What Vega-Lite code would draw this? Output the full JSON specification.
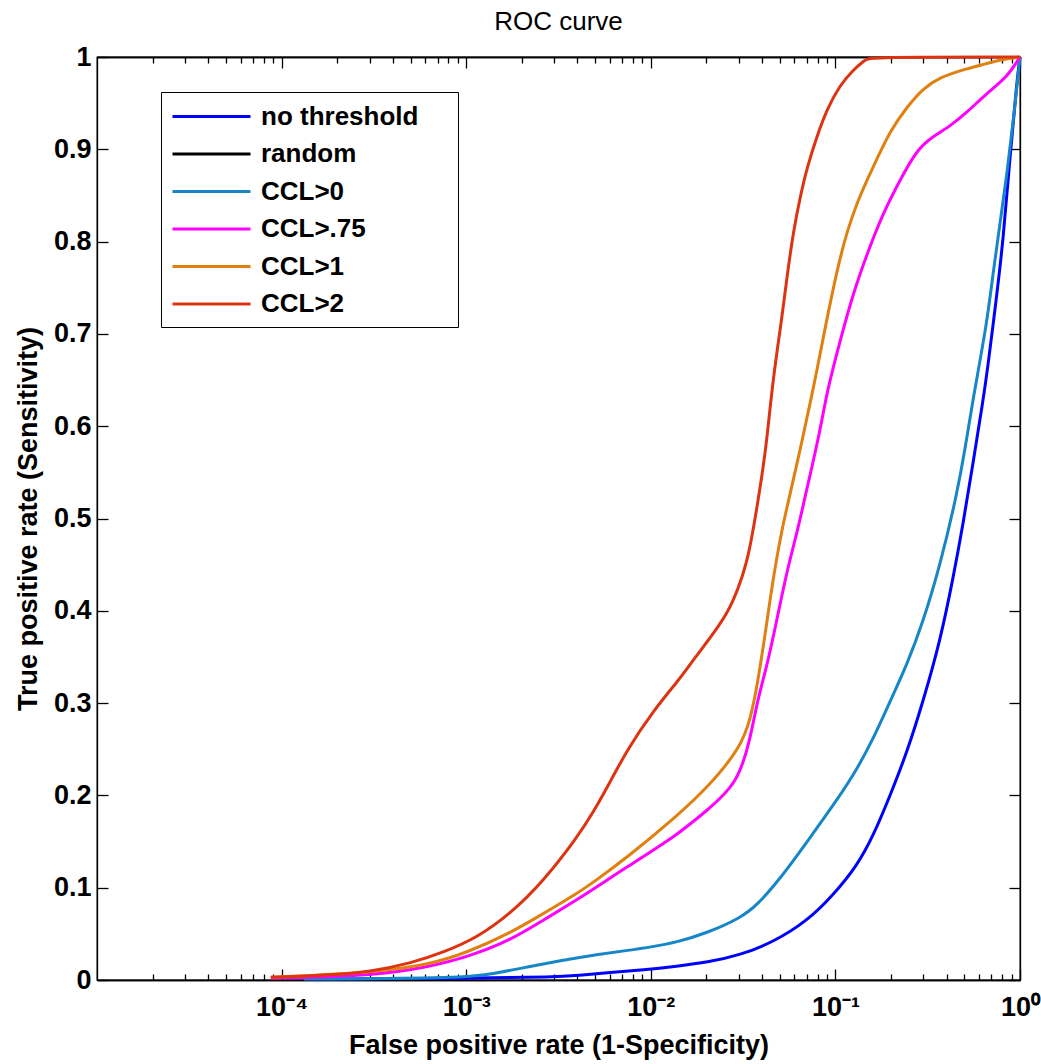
{
  "$schema": "https://vega.github.io/schema/vega-lite/v6.json",
  "width": 923,
  "height": 923,
  "autosize": {"type": "none"},
  "padding": {"left": 97, "top": 57, "right": 21, "bottom": 84},
  "background": "white",
  "title": {"text": "ROC curve", "font": "Liberation Sans", "fontSize": 26, "fontWeight": "normal", "color": "black", "anchor": "middle", "offset": 8},
  "config": {
    "view": {"stroke": "black", "strokeWidth": 1.3},
    "axis": {"domainColor": "black", "domainWidth": 1.3, "tickColor": "black", "tickWidth": 1.3, "labelColor": "black", "titleColor": "black", "labelFont": "Liberation Sans", "labelFontWeight": "bold", "labelFontSize": 27, "titleFont": "Liberation Sans", "titleFontWeight": "bold", "titleFontSize": 27, "grid": false, "labelOverlap": false, "labelFlush": false}
  },
  "data": {"values": [
    {"series": "no threshold", "fpr": 0.000139, "tpr": 0.001},
    {"series": "no threshold", "fpr": 0.001, "tpr": 0.002},
    {"series": "no threshold", "fpr": 0.00312, "tpr": 0.003},
    {"series": "no threshold", "fpr": 0.00401, "tpr": 0.005},
    {"series": "no threshold", "fpr": 0.00604, "tpr": 0.008},
    {"series": "no threshold", "fpr": 0.00912, "tpr": 0.011},
    {"series": "no threshold", "fpr": 0.0139, "tpr": 0.015},
    {"series": "no threshold", "fpr": 0.0202, "tpr": 0.019},
    {"series": "no threshold", "fpr": 0.0305, "tpr": 0.027},
    {"series": "no threshold", "fpr": 0.0461, "tpr": 0.041},
    {"series": "no threshold", "fpr": 0.0704, "tpr": 0.064},
    {"series": "no threshold", "fpr": 0.0973, "tpr": 0.092},
    {"series": "no threshold", "fpr": 0.1312, "tpr": 0.124},
    {"series": "no threshold", "fpr": 0.1602, "tpr": 0.156},
    {"series": "no threshold", "fpr": 0.198, "tpr": 0.2},
    {"series": "no threshold", "fpr": 0.2446, "tpr": 0.247},
    {"series": "no threshold", "fpr": 0.2986, "tpr": 0.302},
    {"series": "no threshold", "fpr": 0.369, "tpr": 0.367},
    {"series": "no threshold", "fpr": 0.4339, "tpr": 0.435},
    {"series": "no threshold", "fpr": 0.4916, "tpr": 0.494},
    {"series": "no threshold", "fpr": 0.5567, "tpr": 0.56},
    {"series": "no threshold", "fpr": 0.6307, "tpr": 0.628},
    {"series": "no threshold", "fpr": 0.6627, "tpr": 0.657},
    {"series": "no threshold", "fpr": 0.7507, "tpr": 0.744},
    {"series": "no threshold", "fpr": 0.8091, "tpr": 0.8},
    {"series": "no threshold", "fpr": 0.8829, "tpr": 0.892},
    {"series": "no threshold", "fpr": 0.9633, "tpr": 0.975},
    {"series": "no threshold", "fpr": 1, "tpr": 1},
    {"series": "random", "fpr": 1, "tpr": 1},
    {"series": "CCL>0", "fpr": 0.000132, "tpr": 0.001},
    {"series": "CCL>0", "fpr": 0.001, "tpr": 0.002},
    {"series": "CCL>0", "fpr": 0.00141, "tpr": 0.007},
    {"series": "CCL>0", "fpr": 0.00215, "tpr": 0.014},
    {"series": "CCL>0", "fpr": 0.00324, "tpr": 0.021},
    {"series": "CCL>0", "fpr": 0.00489, "tpr": 0.027},
    {"series": "CCL>0", "fpr": 0.00747, "tpr": 0.032},
    {"series": "CCL>0", "fpr": 0.0102, "tpr": 0.036},
    {"series": "CCL>0", "fpr": 0.0139, "tpr": 0.041},
    {"series": "CCL>0", "fpr": 0.0202, "tpr": 0.051},
    {"series": "CCL>0", "fpr": 0.0305, "tpr": 0.067},
    {"series": "CCL>0", "fpr": 0.0377, "tpr": 0.081},
    {"series": "CCL>0", "fpr": 0.0503, "tpr": 0.11},
    {"series": "CCL>0", "fpr": 0.0704, "tpr": 0.15},
    {"series": "CCL>0", "fpr": 0.1062, "tpr": 0.2},
    {"series": "CCL>0", "fpr": 0.1312, "tpr": 0.229},
    {"series": "CCL>0", "fpr": 0.1602, "tpr": 0.261},
    {"series": "CCL>0", "fpr": 0.198, "tpr": 0.302},
    {"series": "CCL>0", "fpr": 0.2446, "tpr": 0.342},
    {"series": "CCL>0", "fpr": 0.2986, "tpr": 0.388},
    {"series": "CCL>0", "fpr": 0.369, "tpr": 0.449},
    {"series": "CCL>0", "fpr": 0.456, "tpr": 0.527},
    {"series": "CCL>0", "fpr": 0.5038, "tpr": 0.575},
    {"series": "CCL>0", "fpr": 0.5567, "tpr": 0.63},
    {"series": "CCL>0", "fpr": 0.6627, "tpr": 0.712},
    {"series": "CCL>0", "fpr": 0.7145, "tpr": 0.766},
    {"series": "CCL>0", "fpr": 0.7795, "tpr": 0.82},
    {"series": "CCL>0", "fpr": 0.8505, "tpr": 0.874},
    {"series": "CCL>0", "fpr": 0.9165, "tpr": 0.928},
    {"series": "CCL>0", "fpr": 1, "tpr": 1},
    {"series": "CCL>.75", "fpr": 0.0000874, "tpr": 0.002},
    {"series": "CCL>.75", "fpr": 0.000332, "tpr": 0.005},
    {"series": "CCL>.75", "fpr": 0.000618, "tpr": 0.014},
    {"series": "CCL>.75", "fpr": 0.00102, "tpr": 0.025},
    {"series": "CCL>.75", "fpr": 0.00174, "tpr": 0.043},
    {"series": "CCL>.75", "fpr": 0.00262, "tpr": 0.065},
    {"series": "CCL>.75", "fpr": 0.00401, "tpr": 0.087},
    {"series": "CCL>.75", "fpr": 0.00747, "tpr": 0.123},
    {"series": "CCL>.75", "fpr": 0.0139, "tpr": 0.157},
    {"series": "CCL>.75", "fpr": 0.0202, "tpr": 0.184},
    {"series": "CCL>.75", "fpr": 0.0294, "tpr": 0.212},
    {"series": "CCL>.75", "fpr": 0.0346, "tpr": 0.261},
    {"series": "CCL>.75", "fpr": 0.0377, "tpr": 0.302},
    {"series": "CCL>.75", "fpr": 0.0428, "tpr": 0.342},
    {"series": "CCL>.75", "fpr": 0.0484, "tpr": 0.392},
    {"series": "CCL>.75", "fpr": 0.0549, "tpr": 0.445},
    {"series": "CCL>.75", "fpr": 0.0621, "tpr": 0.485},
    {"series": "CCL>.75", "fpr": 0.0704, "tpr": 0.534},
    {"series": "CCL>.75", "fpr": 0.0827, "tpr": 0.595},
    {"series": "CCL>.75", "fpr": 0.0903, "tpr": 0.639},
    {"series": "CCL>.75", "fpr": 0.1062, "tpr": 0.693},
    {"series": "CCL>.75", "fpr": 0.1248, "tpr": 0.744},
    {"series": "CCL>.75", "fpr": 0.1486, "tpr": 0.787},
    {"series": "CCL>.75", "fpr": 0.1814, "tpr": 0.831},
    {"series": "CCL>.75", "fpr": 0.2243, "tpr": 0.867},
    {"series": "CCL>.75", "fpr": 0.2771, "tpr": 0.9},
    {"series": "CCL>.75", "fpr": 0.3383, "tpr": 0.914},
    {"series": "CCL>.75", "fpr": 0.418, "tpr": 0.925},
    {"series": "CCL>.75", "fpr": 0.5166, "tpr": 0.94},
    {"series": "CCL>.75", "fpr": 0.6627, "tpr": 0.961},
    {"series": "CCL>.75", "fpr": 0.8505, "tpr": 0.978},
    {"series": "CCL>.75", "fpr": 1, "tpr": 1},
    {"series": "CCL>1", "fpr": 0.0000874, "tpr": 0.003},
    {"series": "CCL>1", "fpr": 0.000304, "tpr": 0.008},
    {"series": "CCL>1", "fpr": 0.000618, "tpr": 0.016},
    {"series": "CCL>1", "fpr": 0.00102, "tpr": 0.03},
    {"series": "CCL>1", "fpr": 0.00174, "tpr": 0.051},
    {"series": "CCL>1", "fpr": 0.00262, "tpr": 0.072},
    {"series": "CCL>1", "fpr": 0.00401, "tpr": 0.094},
    {"series": "CCL>1", "fpr": 0.00489, "tpr": 0.106},
    {"series": "CCL>1", "fpr": 0.00747, "tpr": 0.133},
    {"series": "CCL>1", "fpr": 0.0139, "tpr": 0.178},
    {"series": "CCL>1", "fpr": 0.0202, "tpr": 0.208},
    {"series": "CCL>1", "fpr": 0.0305, "tpr": 0.251},
    {"series": "CCL>1", "fpr": 0.0346, "tpr": 0.282},
    {"series": "CCL>1", "fpr": 0.0377, "tpr": 0.319},
    {"series": "CCL>1", "fpr": 0.0417, "tpr": 0.375},
    {"series": "CCL>1", "fpr": 0.0461, "tpr": 0.437},
    {"series": "CCL>1", "fpr": 0.0515, "tpr": 0.49},
    {"series": "CCL>1", "fpr": 0.0569, "tpr": 0.527},
    {"series": "CCL>1", "fpr": 0.0645, "tpr": 0.575},
    {"series": "CCL>1", "fpr": 0.073, "tpr": 0.625},
    {"series": "CCL>1", "fpr": 0.0797, "tpr": 0.662},
    {"series": "CCL>1", "fpr": 0.0903, "tpr": 0.718},
    {"series": "CCL>1", "fpr": 0.1023, "tpr": 0.77},
    {"series": "CCL>1", "fpr": 0.1158, "tpr": 0.812},
    {"series": "CCL>1", "fpr": 0.1328, "tpr": 0.845},
    {"series": "CCL>1", "fpr": 0.1486, "tpr": 0.867},
    {"series": "CCL>1", "fpr": 0.1683, "tpr": 0.89},
    {"series": "CCL>1", "fpr": 0.198, "tpr": 0.92},
    {"series": "CCL>1", "fpr": 0.2446, "tpr": 0.946},
    {"series": "CCL>1", "fpr": 0.2986, "tpr": 0.966},
    {"series": "CCL>1", "fpr": 0.369, "tpr": 0.978},
    {"series": "CCL>1", "fpr": 0.4853, "tpr": 0.986},
    {"series": "CCL>1", "fpr": 0.6627, "tpr": 0.993},
    {"series": "CCL>1", "fpr": 0.7795, "tpr": 0.997},
    {"series": "CCL>1", "fpr": 1, "tpr": 1},
    {"series": "CCL>2", "fpr": 0.0000874, "tpr": 0.003},
    {"series": "CCL>2", "fpr": 0.000178, "tpr": 0.005},
    {"series": "CCL>2", "fpr": 0.000304, "tpr": 0.009},
    {"series": "CCL>2", "fpr": 0.0005, "tpr": 0.018},
    {"series": "CCL>2", "fpr": 0.000755, "tpr": 0.03},
    {"series": "CCL>2", "fpr": 0.00115, "tpr": 0.046},
    {"series": "CCL>2", "fpr": 0.00174, "tpr": 0.072},
    {"series": "CCL>2", "fpr": 0.00262, "tpr": 0.107},
    {"series": "CCL>2", "fpr": 0.00401, "tpr": 0.155},
    {"series": "CCL>2", "fpr": 0.00489, "tpr": 0.182},
    {"series": "CCL>2", "fpr": 0.00604, "tpr": 0.215},
    {"series": "CCL>2", "fpr": 0.00747, "tpr": 0.25},
    {"series": "CCL>2", "fpr": 0.01033, "tpr": 0.292},
    {"series": "CCL>2", "fpr": 0.01446, "tpr": 0.327},
    {"series": "CCL>2", "fpr": 0.01701, "tpr": 0.347},
    {"series": "CCL>2", "fpr": 0.02381, "tpr": 0.385},
    {"series": "CCL>2", "fpr": 0.02799, "tpr": 0.41},
    {"series": "CCL>2", "fpr": 0.0317, "tpr": 0.44},
    {"series": "CCL>2", "fpr": 0.03374, "tpr": 0.46},
    {"series": "CCL>2", "fpr": 0.0359, "tpr": 0.488},
    {"series": "CCL>2", "fpr": 0.03917, "tpr": 0.534},
    {"series": "CCL>2", "fpr": 0.04169, "tpr": 0.572},
    {"series": "CCL>2", "fpr": 0.04326, "tpr": 0.6},
    {"series": "CCL>2", "fpr": 0.04607, "tpr": 0.653},
    {"series": "CCL>2", "fpr": 0.05153, "tpr": 0.72},
    {"series": "CCL>2", "fpr": 0.05485, "tpr": 0.764},
    {"series": "CCL>2", "fpr": 0.0591, "tpr": 0.81},
    {"series": "CCL>2", "fpr": 0.0645, "tpr": 0.849},
    {"series": "CCL>2", "fpr": 0.07035, "tpr": 0.881},
    {"series": "CCL>2", "fpr": 0.0797, "tpr": 0.915},
    {"series": "CCL>2", "fpr": 0.09025, "tpr": 0.944},
    {"series": "CCL>2", "fpr": 0.1062, "tpr": 0.97},
    {"series": "CCL>2", "fpr": 0.1248, "tpr": 0.986},
    {"series": "CCL>2", "fpr": 0.1449, "tpr": 0.997},
    {"series": "CCL>2", "fpr": 0.1543, "tpr": 1},
    {"series": "CCL>2", "fpr": 1, "tpr": 1}
  ]},
  "layer": [
    {
      "mark": {"type": "line", "strokeWidth": 3, "interpolate": "basis"},
      "encoding": {
        "x": {"field": "fpr", "type": "quantitative", "scale": {"type": "log", "domain": [0.00001, 1], "nice": false},
          "axis": {"orient": "bottom", "values": [0.0001, 0.001, 0.01, 0.1, 1], "tickSize": -11, "labelPadding": 25, "labelBaseline": "top",
            "labelExpr": "'10' + ['⁻⁴','⁻³','⁻²','⁻¹','⁰'][round(log(datum.value)/LN10)+4]",
            "title": "False positive rate (1-Specificity)", "titlePadding": 12}},
        "y": {"field": "tpr", "type": "quantitative", "scale": {"domain": [0, 1], "nice": false},
          "axis": {"orient": "left", "values": [0, 0.1, 0.2, 0.3, 0.4, 0.5, 0.6, 0.7, 0.8, 0.9, 1], "tickSize": -11, "labelPadding": 17, "format": ".1~f",
            "title": "True positive rate (Sensitivity)", "titlePadding": 11}},
        "color": {"field": "series", "type": "nominal",
          "scale": {"domain": ["no threshold", "random", "CCL>0", "CCL>.75", "CCL>1", "CCL>2"], "range": ["#0000FF", "#000000", "#1686C8", "#FF00FF", "#E08010", "#DD3311"]},
          "legend": {"orient": "none", "legendX": 64, "legendY": 35, "title": null, "symbolType": "M-3,0H3", "symbolSize": 676, "symbolStrokeWidth": 3, "symbolOffset": 26,
            "labelOffset": 35, "labelFont": "Liberation Sans", "labelFontWeight": "bold", "labelFontSize": 26, "labelColor": "black", "labelLimit": 400,
            "labelExpr": "datum.label + '\u00a0\u00a0\u00a0\u00a0\u200b'",
            "rowPadding": 9.5, "padding": 10, "strokeColor": "black", "fillColor": "white"}}
      }
    },
    {
      "mark": {"type": "point", "opacity": 0},
      "encoding": {
        "x": {"field": "fpr", "type": "quantitative", "scale": {"type": "log", "domain": [0.00001, 1], "nice": false},
          "axis": {"orient": "top", "values": [0.0001, 0.001, 0.01, 0.1, 1], "tickSize": -11, "labels": false, "title": null}},
        "y": {"field": "tpr", "type": "quantitative", "scale": {"domain": [0, 1], "nice": false},
          "axis": {"orient": "right", "values": [0, 0.1, 0.2, 0.3, 0.4, 0.5, 0.6, 0.7, 0.8, 0.9, 1], "tickSize": -11, "labels": false, "title": null}}
      }
    },
    {
      "mark": {"type": "point", "opacity": 0},
      "encoding": {
        "x": {"field": "fpr", "type": "quantitative", "scale": {"type": "log", "domain": [0.00001, 1], "nice": false},
          "axis": {"orient": "bottom", "values": [0.00002, 0.00003, 0.00004, 0.00005, 0.00006, 0.00007, 0.00008, 0.00009, 0.0002, 0.0003, 0.0004, 0.0005, 0.0006, 0.0007, 0.0008, 0.0009, 0.002, 0.003, 0.004, 0.005, 0.006, 0.007, 0.008, 0.009, 0.02, 0.03, 0.04, 0.05, 0.06, 0.07, 0.08, 0.09, 0.2, 0.3, 0.4, 0.5, 0.6, 0.7, 0.8, 0.9], "tickSize": -6, "labels": false, "title": null}},
        "y": {"field": "tpr", "type": "quantitative", "scale": {"domain": [0, 1], "nice": false}, "axis": null}
      }
    },
    {
      "mark": {"type": "point", "opacity": 0},
      "encoding": {
        "x": {"field": "fpr", "type": "quantitative", "scale": {"type": "log", "domain": [0.00001, 1], "nice": false},
          "axis": {"orient": "top", "values": [0.00002, 0.00003, 0.00004, 0.00005, 0.00006, 0.00007, 0.00008, 0.00009, 0.0002, 0.0003, 0.0004, 0.0005, 0.0006, 0.0007, 0.0008, 0.0009, 0.002, 0.003, 0.004, 0.005, 0.006, 0.007, 0.008, 0.009, 0.02, 0.03, 0.04, 0.05, 0.06, 0.07, 0.08, 0.09, 0.2, 0.3, 0.4, 0.5, 0.6, 0.7, 0.8, 0.9], "tickSize": -6, "labels": false, "title": null}},
        "y": {"field": "tpr", "type": "quantitative", "scale": {"domain": [0, 1], "nice": false}, "axis": null}
      }
    }
  ],
  "resolve": {"axis": {"x": "independent", "y": "independent"}}
}
